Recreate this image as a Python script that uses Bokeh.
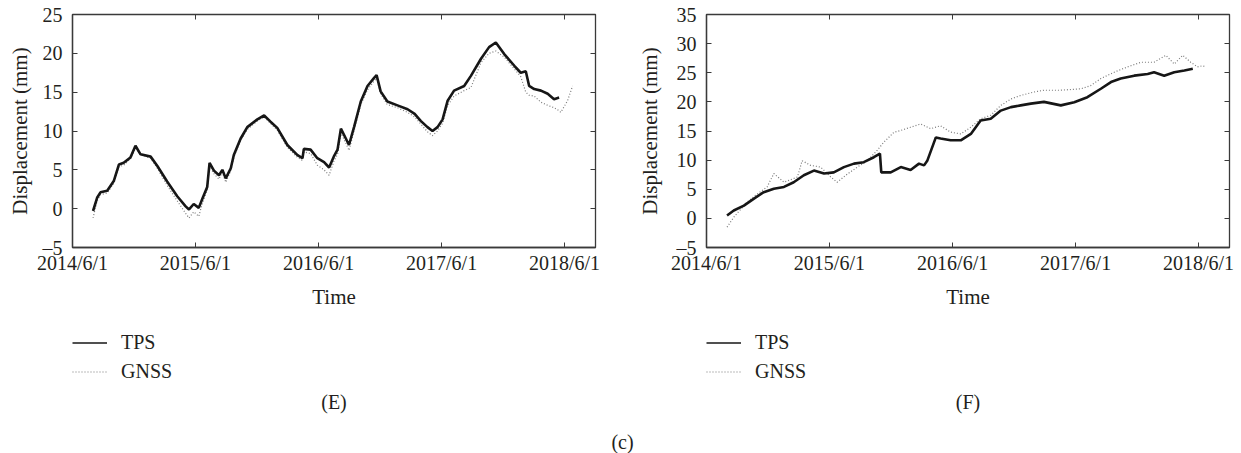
import pandas as pd
from bokeh.plotting import figure
from bokeh.models import (Range1d, FixedTicker, LinearAxis, DatetimeAxis, Legend,
                          LegendItem, Label, ColumnDataSource)
from bokeh.layouts import column, row
from bokeh.embed import file_html
from bokeh.resources import INLINE

# ---------------- data ----------------
x_tick_dates = ["2014-06-01", "2015-06-01", "2016-06-01", "2017-06-01", "2018-06-01"]
x_tick_labels = ["2014/6/1", "2015/6/1", "2016/6/1", "2017/6/1", "2018/6/1"]
x_start, x_end = "2014-06-01", "2018-09-01"

# Panel (E)
e_tps_dates = ["2014-08-01", "2014-08-13", "2014-08-23", "2014-09-12", "2014-10-02", "2014-10-17",
               "2014-10-31", "2014-11-20", "2014-12-05", "2014-12-20", "2015-01-19", "2015-02-08",
               "2015-03-09", "2015-04-08", "2015-05-03", "2015-05-13", "2015-05-27", "2015-06-11",
               "2015-06-21", "2015-07-06", "2015-07-13", "2015-07-26", "2015-08-10", "2015-08-20",
               "2015-08-30", "2015-09-14", "2015-09-23", "2015-10-13", "2015-11-02", "2015-12-02",
               "2015-12-22", "2016-01-10", "2016-01-30", "2016-02-29", "2016-03-30", "2016-04-14",
               "2016-04-18", "2016-05-08", "2016-05-28", "2016-06-17", "2016-07-02", "2016-07-17",
               "2016-07-27", "2016-08-06", "2016-08-21", "2016-08-30", "2016-09-14", "2016-10-04",
               "2016-10-24", "2016-11-12", "2016-11-20", "2016-12-02", "2016-12-22", "2017-01-21",
               "2017-02-20", "2017-03-13", "2017-03-31", "2017-04-20", "2017-05-05", "2017-05-20",
               "2017-06-04", "2017-06-19", "2017-07-08", "2017-08-07", "2017-08-27", "2017-09-26",
               "2017-10-20", "2017-11-09", "2017-12-04", "2018-01-03", "2018-01-22", "2018-02-06",
               "2018-02-16", "2018-03-03", "2018-03-23", "2018-04-12", "2018-05-01", "2018-05-16"]
e_tps = [-0.3, 1.4, 2.1, 2.3, 3.6, 5.7, 5.9, 6.6, 8.1, 7.0, 6.7, 5.5, 3.5, 1.6, 0.3, -0.1, 0.6, 0.1,
         1.2, 2.8, 5.9, 4.9, 4.3, 5.0, 3.9, 5.2, 6.9, 9.0, 10.5, 11.5, 12.0, 11.2, 10.4, 8.2, 6.9, 6.5,
         7.7, 7.6, 6.5, 6.0, 5.3, 6.8, 7.6, 10.3, 9.0, 8.2, 10.5, 13.8, 15.8, 16.8, 17.2, 15.1, 13.8,
         13.3, 12.8, 12.2, 11.3, 10.5, 10.0, 10.5, 11.5, 13.9, 15.2, 15.8, 17.1, 19.3, 20.8, 21.4,
         19.9, 18.4, 17.5, 17.7, 15.8, 15.4, 15.2, 14.8, 14.1, 14.3]
e_gnss_dates = e_tps_dates + ["2018-05-21", "2018-06-10", "2018-06-25"]
e_gnss = [-1.2, 1.0, 1.8, 2.0, 3.3, 5.4, 5.6, 6.4, 7.8, 7.0, 6.5, 5.2, 3.0, 1.0, -0.6, -1.2, -0.4,
          -1.0, 0.6, 2.4, 5.5, 4.5, 3.8, 4.7, 3.4, 4.9, 6.6, 8.8, 10.2, 11.3, 11.8, 11.0, 10.1, 7.9,
          6.6, 6.2, 7.3, 7.1, 5.6, 5.0, 4.3, 6.2, 7.0, 9.8, 8.4, 7.5, 10.0, 13.4, 15.3, 16.4, 16.8,
          14.8, 13.4, 13.0, 12.4, 11.8, 10.9, 9.9, 9.4, 10.0, 11.0, 13.3, 14.5, 15.2, 15.6, 18.8,
          20.0, 20.3, 19.5, 18.0, 17.0, 15.0, 14.6, 14.5, 13.7, 13.3, 13.0, 12.6, 12.4, 13.9, 15.8]
e_yticks = [-5, 0, 5, 10, 15, 20, 25]

# Panel (F)
f_tps_dates = ["2014-08-01", "2014-08-21", "2014-09-20", "2014-10-20", "2014-11-18", "2014-12-18",
               "2015-01-17", "2015-02-15", "2015-03-17", "2015-04-16", "2015-05-16", "2015-06-14",
               "2015-07-14", "2015-08-13", "2015-09-11", "2015-10-11", "2015-10-29", "2015-11-02",
               "2015-11-30", "2015-12-30", "2016-01-28", "2016-02-22", "2016-03-08", "2016-03-18",
               "2016-04-12", "2016-04-26", "2016-05-26", "2016-06-25", "2016-07-25", "2016-08-23",
               "2016-09-22", "2016-10-22", "2016-11-21", "2016-12-20", "2017-01-19", "2017-02-27",
               "2017-04-18", "2017-05-28", "2017-07-06", "2017-08-15", "2017-09-14", "2017-10-13",
               "2017-11-22", "2018-01-01", "2018-01-20", "2018-02-19", "2018-03-21", "2018-04-20",
               "2018-05-15"]
f_tps = [0.5, 1.35, 2.2, 3.4, 4.5, 5.1, 5.4, 6.2, 7.4, 8.2, 7.7, 7.9, 8.8, 9.4, 9.65, 10.5, 11.1,
         7.9, 7.9, 8.8, 8.3, 9.4, 9.1, 9.95, 13.9, 13.7, 13.4, 13.4, 14.5, 16.8, 17.1, 18.5, 19.1,
         19.4, 19.7, 20.0, 19.4, 19.95, 20.8, 22.25, 23.4, 24.0, 24.5, 24.8, 25.1, 24.5, 25.1, 25.4,
         25.7]
f_gnss_dates = ["2014-08-01", "2014-08-21", "2014-09-30", "2014-10-30", "2014-11-28", "2014-12-18",
                "2015-01-17", "2015-02-26", "2015-03-12", "2015-04-06", "2015-05-06", "2015-06-05",
                "2015-06-24", "2015-07-24", "2015-08-23", "2015-09-22", "2015-10-21", "2015-11-10",
                "2015-12-10", "2015-12-30", "2016-01-28", "2016-02-27", "2016-03-28", "2016-04-26",
                "2016-05-26", "2016-06-25", "2016-07-25", "2016-08-23", "2016-09-22", "2016-10-22",
                "2016-11-21", "2016-12-20", "2017-01-29", "2017-02-27", "2017-04-18", "2017-06-17",
                "2017-07-16", "2017-08-15", "2017-09-24", "2017-11-02", "2017-12-12", "2018-01-20",
                "2018-02-24", "2018-03-21", "2018-04-15", "2018-05-09", "2018-05-29", "2018-06-13",
                "2018-06-23"]
f_gnss = [-1.5, 0.2, 2.8, 4.2, 5.4, 7.7, 6.2, 7.1, 9.9, 9.1, 8.8, 7.1, 6.2, 7.6, 8.8, 9.9, 11.7,
          13.1, 14.8, 15.1, 15.65, 16.2, 15.4, 15.9, 14.8, 14.5, 15.65, 17.1, 17.7, 19.4, 20.5, 21.1,
          21.7, 22.0, 22.0, 22.25, 22.8, 24.0, 25.1, 26.0, 26.8, 26.8, 28.0, 26.5, 28.0, 26.8, 26.0,
          26.2, 26.0]
f_yticks = [-5, 0, 5, 10, 15, 20, 25, 30, 35]

series_names = ["TPS", "GNSS"]
panel_tags = ["(E)", "(F)"]
figure_tag = "(c)"
y_label = "Displacement (mm)"
x_label = "Time"

# ---------------- styling ----------------
FONT = "Liberation Serif"
TXT = "#231f20"
AX = "#3a3a3a"
TPS_STYLE = dict(line_color="#161616", line_width=2.6)
GNSS_STYLE = dict(line_color="#7a7a7a", line_width=1.2, line_dash="1 2")

H1 = 315     # height of the chart row
H2 = 115     # height of the legend / tag row
H3 = 23      # height of the figure tag row


def ms(s):
    return pd.Timestamp(s).value / 1e6


x_ticks = [ms(d) for d in x_tick_dates]


def panel(width, b_left, b_right, yticks, tps_d, tps_v, gnss_d, gnss_v, ylab_standoff):
    p = figure(width=width, height=H1, x_axis_type="datetime",
               x_range=Range1d(ms(x_start), ms(x_end)),
               y_range=Range1d(yticks[0], yticks[-1]),
               output_backend="svg", toolbar_location=None,
               min_border_left=b_left, min_border_right=b_right,
               min_border_top=14, min_border_bottom=H1 - 247)
    p.grid.visible = False
    p.outline_line_color = AX
    p.outline_line_width = 1.3

    src_g = ColumnDataSource(dict(x=pd.to_datetime(gnss_d), y=gnss_v))
    src_t = ColumnDataSource(dict(x=pd.to_datetime(tps_d), y=tps_v))
    p.line("x", "y", source=src_g, **GNSS_STYLE)
    p.line("x", "y", source=src_t, **TPS_STYLE)

    xa = p.xaxis[0]
    xa.ticker = FixedTicker(ticks=x_ticks)
    xa.major_label_overrides = {t: l for t, l in zip(x_ticks, x_tick_labels)}
    xa.axis_label = x_label
    xa.axis_label_standoff = 8
    xa.major_label_standoff = 4

    ya = p.yaxis[0]
    ya.ticker = FixedTicker(ticks=yticks)
    ya.major_label_overrides = {-5: "\u20135"}
    ya.axis_label = y_label
    ya.axis_label_standoff = ylab_standoff
    ya.major_label_standoff = 10

    for ax in (xa, ya):
        ax.axis_label_text_font = FONT
        ax.axis_label_text_font_size = "21px"
        ax.axis_label_text_font_style = "normal"
        ax.axis_label_text_color = TXT
        ax.major_label_text_font = FONT
        ax.major_label_text_font_size = "20px"
        ax.major_label_text_color = TXT
        ax.axis_line_color = AX
        ax.axis_line_width = 1.3
        ax.major_tick_in = 5
        ax.major_tick_out = 0
        ax.major_tick_line_color = AX
        ax.minor_tick_in = 0
        ax.minor_tick_out = 0

    top = DatetimeAxis(ticker=FixedTicker(ticks=x_ticks))
    rgt = LinearAxis(ticker=FixedTicker(ticks=yticks))
    for ax in (top, rgt):
        ax.major_label_text_font_size = "0px"
        ax.major_label_text_alpha = 0
        ax.major_label_standoff = 0
        ax.axis_line_color = None
        ax.major_tick_in = 5
        ax.major_tick_out = 0
        ax.major_tick_line_color = AX
        ax.minor_tick_in = 0
        ax.minor_tick_out = 0
    p.add_layout(top, "above")
    p.add_layout(rgt, "right")
    return p


def legend_strip(width, frame_left, frame_right, tag):
    q = figure(width=width, height=H2, x_range=Range1d(0, 1), y_range=Range1d(0, 1),
               output_backend="svg", toolbar_location=None,
               x_axis_location=None, y_axis_location=None,
               min_border_left=0, min_border_right=0, min_border_top=0, min_border_bottom=0)
    q.grid.visible = False
    q.outline_line_color = None
    # legend keys: one undefined (NaN) point each, so nothing is drawn in the strip itself
    key_src = ColumnDataSource(dict(x=[0.0], y=[float("nan")]))
    kt = q.line("x", "y", source=key_src, line_color=TPS_STYLE["line_color"], line_width=1.4)
    kg = q.line("x", "y", source=key_src, **GNSS_STYLE)
    legend = Legend(items=[LegendItem(label=series_names[0], renderers=[kt]),
                           LegendItem(label=series_names[1], renderers=[kg])],
                    location=(frame_left, H2 - 68))
    legend.label_text_font = FONT
    legend.label_text_font_size = "20px"
    legend.label_text_color = TXT
    legend.glyph_width = 35
    legend.glyph_height = 23
    legend.label_height = 23
    legend.label_standoff = 14
    legend.spacing = 6
    legend.padding = 0
    legend.margin = 0
    legend.border_line_color = None
    legend.background_fill_alpha = 0
    q.add_layout(legend)
    q.add_layout(Label(x=(frame_left + frame_right) / 2, y=H2 - 86, x_units="screen",
                       y_units="screen", text=tag, text_align="center",
                       text_baseline="middle", text_font=FONT, text_font_size="20px",
                       text_color=TXT))
    return q


p1 = panel(620, 72, 25, e_yticks, e_tps_dates, e_tps, e_gnss_dates, e_gnss, 8)
p2 = panel(621, 86, 12, f_yticks, f_tps_dates, f_tps, f_gnss_dates, f_gnss, 12)
q1 = legend_strip(620, 72, 595, panel_tags[0])
q2 = legend_strip(621, 86, 609, panel_tags[1])

p3 = figure(width=1241, height=H3, x_range=Range1d(0, 1), y_range=Range1d(0, 1),
            output_backend="svg", toolbar_location=None,
            x_axis_location=None, y_axis_location=None,
            min_border_left=0, min_border_right=0, min_border_top=0, min_border_bottom=0)
p3.grid.visible = False
p3.outline_line_color = None
p3.add_layout(Label(x=622, y=12, x_units="screen", y_units="screen", text=figure_tag,
                    text_align="center", text_baseline="middle", text_font=FONT,
                    text_font_size="20px", text_color=TXT))

layout = column(row(p1, p2), row(q1, q2), p3)
open("out.html", "w").write(file_html(layout, INLINE))
